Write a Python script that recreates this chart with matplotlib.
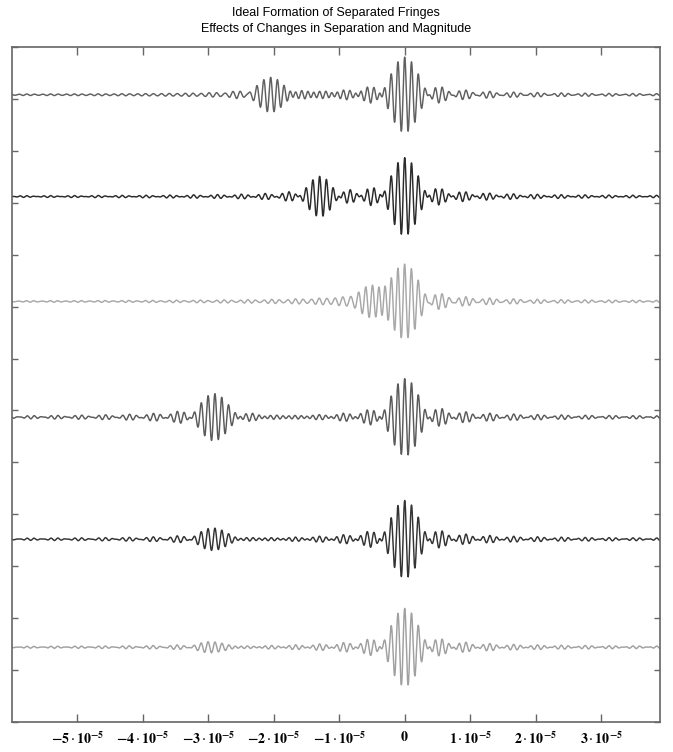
import numpy as np
import matplotlib
matplotlib.use("Agg")
import matplotlib.pyplot as plt

plt.rcParams["mathtext.fontset"] = "stix"

# ---- data ----
title_lines = ["Ideal Formation of Separated Fringes",
               "Effects of Changes in Separation and Magnitude"]
x_ticks = [-5e-5, -4e-5, -3e-5, -2e-5, -1e-5, 0, 1e-5, 2e-5, 3e-5]
x_tick_labels = [r"$\mathbf{-5}\cdot\mathbf{10^{-5}}$", r"$\mathbf{-4}\cdot\mathbf{10^{-5}}$",
                 r"$\mathbf{-3}\cdot\mathbf{10^{-5}}$", r"$\mathbf{-2}\cdot\mathbf{10^{-5}}$",
                 r"$\mathbf{-1}\cdot\mathbf{10^{-5}}$", r"$\mathbf{0}$",
                 r"$\mathbf{1}\cdot\mathbf{10^{-5}}$", r"$\mathbf{2}\cdot\mathbf{10^{-5}}$",
                 r"$\mathbf{3}\cdot\mathbf{10^{-5}}$"]
x_limits = [-6.0e-5, 3.9e-5]
y_limits = [0, 13]
y_ticks = list(range(0, 14))

# per-trace parameters (top to bottom)
trace_offsets = [12.08, 10.12, 8.10, 5.87, 3.52, 1.44]
main_amplitude = [0.72, 0.72, 0.74, 0.75, 0.75, 0.75]
second_separation = [-2.05e-5, -1.3e-5, -0.5e-5, -2.9e-5, -2.9e-5, -2.9e-5]
second_magnitude = [0.45, 0.45, 0.45, 0.62, 0.30, 0.15]
trace_colors = ["#606060", "#2a2a2a", "#a8a8a8", "#5a5a5a", "#333333", "#a0a0a0"]

# source model: central wavelength and spectral width of the fringe packets
central_wavelength = 1.04e-6
spectral_width = 2.7e5   # 1/m

# ---- figure ----
fig = plt.figure(figsize=(6.73, 7.52), dpi=100)
ax = fig.add_axes([12 / 673, 1 - 722 / 752, (660 - 12) / 673, (722 - 47) / 752])

x = np.linspace(x_limits[0], x_limits[1], 12000)
sigma0 = 1.0 / central_wavelength


def packet(xc, amp):
    return amp * np.sinc(spectral_width * (x - xc)) * np.cos(2 * np.pi * sigma0 * (x - xc))


for off, a, s, m, c in zip(trace_offsets, main_amplitude, second_separation,
                           second_magnitude, trace_colors):
    y = packet(0.0, a) + packet(s, a * m)
    ax.plot(x, off + y, color=c, lw=1.05, solid_joinstyle="round")

ax.set_xlim(x_limits)
ax.set_ylim(y_limits)
ax.set_xticks(x_ticks)
ax.set_xticklabels(x_tick_labels)
ax.set_yticks(y_ticks)
ax.set_yticklabels([])

for lab in ax.get_xticklabels():
    lab.set_fontsize(10)

ax.tick_params(axis="x", direction="in", length=6, width=1, color="#666666",
               top=True, bottom=True, pad=6)
ax.tick_params(axis="y", direction="in", length=4, width=1, color="#666666",
               left=True, right=True)
for sp in ax.spines.values():
    sp.set_color("#666666")
    sp.set_linewidth(1.2)

fig.text(336 / 673, 1 - 13 / 752, title_lines[0], ha="center", va="center",
         fontsize=9, family=["Liberation Sans Narrow", "Liberation Sans"])
fig.text(336 / 673, 1 - 29 / 752, title_lines[1], ha="center", va="center",
         fontsize=9, family=["Liberation Sans Narrow", "Liberation Sans"])

fig.savefig("out.png", dpi=100)
